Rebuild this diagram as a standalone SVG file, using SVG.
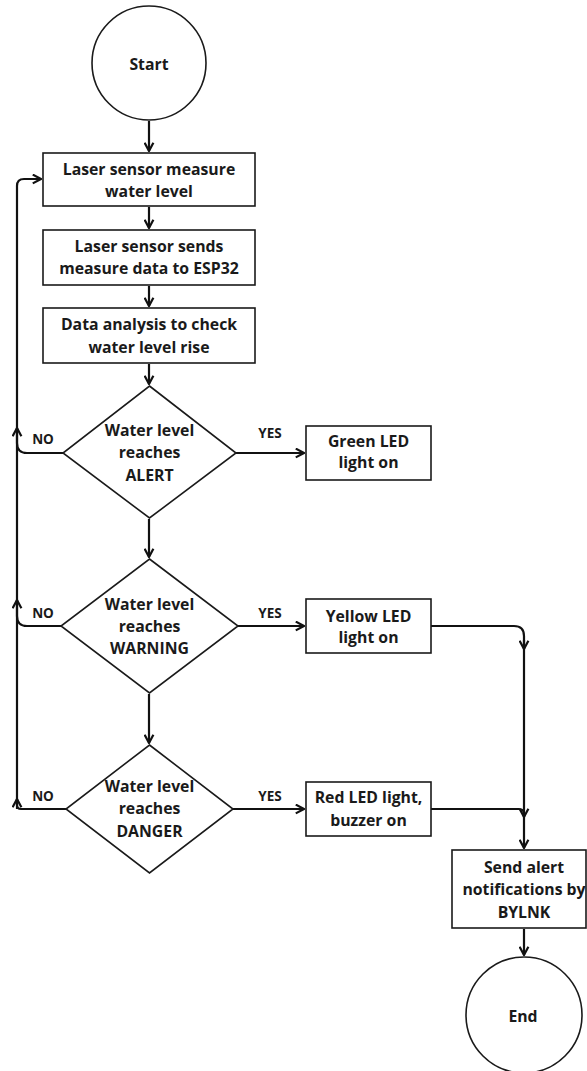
<svg xmlns="http://www.w3.org/2000/svg" width="587" height="1071" viewBox="0 0 587 1071">
<style>
.shape{fill:#fff;stroke:#1a1a1a;stroke-width:1.6}
.t{font-family:"Open Sans","Liberation Sans",sans-serif;font-weight:700;font-size:15.8px;fill:#1a1a1a;text-anchor:middle}
.lbl{font-family:"Open Sans","Liberation Sans",sans-serif;font-weight:700;font-size:13.5px;fill:#1a1a1a;text-anchor:middle}
.c{fill:none;stroke:#111;stroke-width:2.2}
</style>
<defs>
<marker id="ah" viewBox="0 0 10 10" refX="9" refY="5" markerWidth="5" markerHeight="5" orient="auto" markerUnits="strokeWidth">
<path d="M1.5,1 L9,5 L1.5,9" fill="none" stroke="#111" stroke-width="2"/>
</marker>
</defs>
<rect width="587" height="1071" fill="#fff"/>
<g id="connectors">
<path class="c" d="M149,121 V151" marker-end="url(#ah)"/>
<path class="c" d="M149,207 V228" marker-end="url(#ah)"/>
<path class="c" d="M149,286 V306" marker-end="url(#ah)"/>
<path class="c" d="M149,364 V384" marker-end="url(#ah)"/>
<path class="c" d="M149,519 V557" marker-end="url(#ah)"/>
<path class="c" d="M149,694 V743" marker-end="url(#ah)"/>
<path class="c" d="M236,453 H304" marker-end="url(#ah)"/>
<path class="c" d="M238,626 H304" marker-end="url(#ah)"/>
<path class="c" d="M233,809 H304" marker-end="url(#ah)"/>
<path class="c" d="M17,809 V186 Q17,179 24,179 H41" marker-end="url(#ah)"/>
<path class="c" d="M63,453 H27 Q17,453 17,443 V428" marker-end="url(#ah)"/>
<path class="c" d="M61,626 H27 Q17,626 17,616 V600" marker-end="url(#ah)"/>
<path class="c" d="M66,809 H21 Q17,809 17,805 V799" marker-end="url(#ah)"/>
<path class="c" d="M431,626 H514 Q524,626 524,636 V649" marker-end="url(#ah)"/>
<path class="c" d="M431,809 H519 Q524,809 524,814 V817" marker-end="url(#ah)"/>
<path class="c" d="M524,640 V848" marker-end="url(#ah)"/>
<path class="c" d="M524,929 V955" marker-end="url(#ah)"/>
</g>
<g id="start">
<circle class="shape" cx="149" cy="63" r="57"/>
<text class="t" x="149" y="70">Start</text>
</g>
<g id="measure">
<rect class="shape" x="43" y="153" width="212" height="53"/>
<text class="t" x="149" y="175">Laser sensor measure</text>
<text class="t" x="149" y="197">water level</text>
</g>
<g id="send">
<rect class="shape" x="43" y="230" width="212" height="55"/>
<text class="t" x="149" y="252">Laser sensor sends</text>
<text class="t" x="149" y="274">measure data to ESP32</text>
</g>
<g id="analysis">
<rect class="shape" x="43" y="308" width="212" height="55"/>
<text class="t" x="149" y="330">Data analysis to check</text>
<text class="t" x="149" y="353">water level rise</text>
</g>
<g id="alert">
<polygon class="shape" points="149.5,386 236,453 149.5,518 63,453"/>
<text class="t" x="149.5" y="436">Water level</text>
<text class="t" x="149.5" y="458">reaches</text>
<text class="t" x="149.5" y="481">ALERT</text>
<text class="lbl" x="270" y="438">YES</text>
<text class="lbl" x="43" y="444">NO</text>
</g>
<g id="green">
<rect class="shape" x="306" y="426" width="125" height="54"/>
<text class="t" x="368.5" y="447">Green LED</text>
<text class="t" x="368.5" y="468">light on</text>
</g>
<g id="warning">
<polygon class="shape" points="149.5,559 238,626 149.5,693 61,626"/>
<text class="t" x="149.5" y="610">Water level</text>
<text class="t" x="149.5" y="632">reaches</text>
<text class="t" x="149.5" y="654">WARNING</text>
<text class="lbl" x="270" y="618">YES</text>
<text class="lbl" x="43" y="618">NO</text>
</g>
<g id="yellow">
<rect class="shape" x="306" y="599" width="125" height="54"/>
<text class="t" x="368.5" y="622">Yellow LED</text>
<text class="t" x="368.5" y="643">light on</text>
</g>
<g id="danger">
<polygon class="shape" points="149.5,745 233,809 149.5,873 66,809"/>
<text class="t" x="149.5" y="792">Water level</text>
<text class="t" x="149.5" y="814">reaches</text>
<text class="t" x="149.5" y="837">DANGER</text>
<text class="lbl" x="270" y="801">YES</text>
<text class="lbl" x="43" y="801">NO</text>
</g>
<g id="red">
<rect class="shape" x="306" y="782" width="125" height="54"/>
<text class="t" x="368.5" y="803">Red LED light,</text>
<text class="t" x="368.5" y="826">buzzer on</text>
</g>
<g id="notify">
<rect class="shape" x="452" y="850" width="134" height="78"/>
<text class="t" x="524" y="873">Send alert</text>
<text class="t" x="524" y="895">notifications by</text>
<text class="t" x="524" y="918">BYLNK</text>
</g>
<g id="end">
<circle class="shape" cx="524" cy="1015" r="58"/>
<text class="t" x="523" y="1022">End</text>
</g>
</svg>
